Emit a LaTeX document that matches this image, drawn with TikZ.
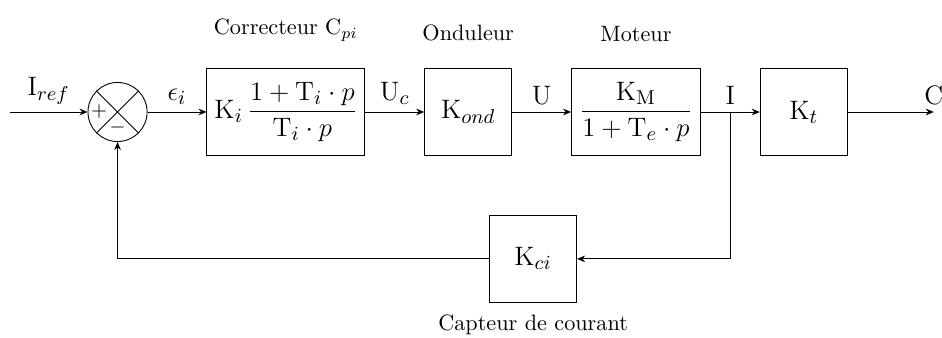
\documentclass[tikz,border=0pt]{standalone}
\usepackage{amsmath}
\usepackage{tikz}
\usetikzlibrary{positioning, arrows.meta, calc}
\tikzset{
  bloc/.style={rectangle, draw=black, minimum width=39.2pt, minimum height=39.2pt, inner sep=2pt, text centered, font=\fontsize{13}{15}\selectfont},
  somme/.style={circle, draw=black, minimum size=26.6pt, inner sep=0pt},
  signe/.style={font=\small, inner sep=0pt},
  legende/.style={font=\normalsize},
  signal/.style={above, font=\fontsize{13}{15}\selectfont},
  arrow/.style={->, >={Stealth[length=3.6pt, width=3pt]}}
}

\begin{document}
\begin{tikzpicture}[node distance=26.5pt]
    \useasboundingbox (-52.9pt,-101.7pt) rectangle (371pt,50.4pt);

    % Comparateur
    \node (sum) [somme] {};
    \draw (sum.north west) -- (sum.south east);
    \draw (sum.north east) -- (sum.south west);
    \node (plus) [signe] at ($(sum.center)+(-8.3pt,0)$) {$+$};
    \node (moins) [signe] at ($(sum.center)+(0,-6.8pt)$) {$-$};

    % Blocs
    \node (corr) [bloc, right=of sum, minimum width=71.1pt]
    {$\mathrm{K}_i\,\dfrac{1+\mathrm{T}_i\cdot p}{\mathrm{T}_i\cdot p}$};

    \node (ond) [bloc, right=of corr] {$\mathrm{K}_{ond}$};

    \node (mot) [bloc, right=of ond, minimum width=58pt]
    {$\dfrac{\mathrm{K}_\mathrm{M}}{1+\mathrm{T}_e\cdot p}$};

    \node (kt) [bloc, right=of mot] {$\mathrm{K}_t$};

    \node (capt) [bloc, below=of ond, xshift=29.2pt] {$\mathrm{K}_{ci}$};

    % Legendes
    \node (lcorr) [legende, above=8.5pt of corr] {Correcteur C$_{pi}$};
    \node (lond) [legende, above=8.5pt of ond] {Onduleur};
    \node (lmot) [legende, above=8.5pt of mot] {Moteur};
    \node (lcapt) [legende, below=2pt of capt] {Capteur de courant};

    % Points
    \coordinate [left=35pt of sum] (entree);
    \coordinate [right=38.7pt of kt] (sortie);
    \coordinate (jonction) at ($(mot.east)!0.5!(kt.west)$);

    % Fleches
    \draw [arrow] (entree) -- node[signal] (liref) {$\mathrm{I}_{ref}$} (sum);
    \draw [arrow] (sum) -- node[signal] (leps) {$\epsilon_i$} (corr);
    \draw [arrow] (corr) -- node[signal] (luc) {$\mathrm{U}_c$} (ond);
    \draw [arrow] (ond) -- node[signal] (lu) {$\mathrm{U}$} (mot);
    \draw [arrow] (mot) -- node[signal] (li) {$\mathrm{I}$} (kt);
    \draw [arrow] (kt) -- (sortie) node[signal] (lc) {$\mathrm{C}$};

    % Retour
    \draw [arrow] (jonction) |- (capt.east);
    \draw [arrow] (capt.west) -| (sum.south);

\end{tikzpicture}
\end{document}
